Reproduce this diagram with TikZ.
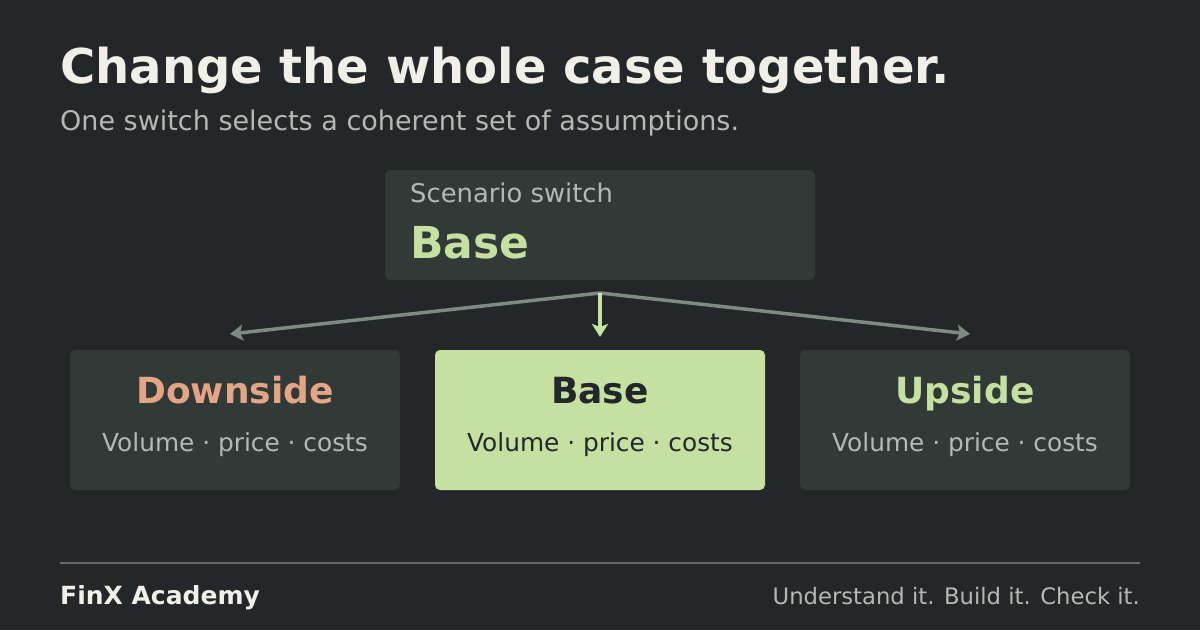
\documentclass[tikz,border=0pt]{standalone}
\usepackage{fontspec}
\usetikzlibrary{arrows.meta}
\setmainfont{DejaVu Sans}
\definecolor{bg}{HTML}{23272A}
\definecolor{boxc}{HTML}{323A38}
\definecolor{grn}{HTML}{C5E0A0}
\definecolor{org}{HTML}{E3A585}
\definecolor{arr}{HTML}{7F8A85}
\definecolor{ttl}{HTML}{F0F0E8}
\definecolor{sub}{HTML}{B4B9B4}
\definecolor{dark}{HTML}{23272A}
\begin{document}
\begin{tikzpicture}[x=1pt,y=-1pt,
  box/.style={fill=boxc,rounded corners=5pt,draw=none},
  fs/.style={font=\fontsize{#1}{#1}\selectfont},
  fb/.style={font=\fontsize{#1}{#1}\selectfont\bfseries},
  con/.style={draw=arr,line width=3.5pt,-{Stealth[length=13pt,width=16pt,inset=3pt]}}]
\fill[bg] (0,0) rectangle (1200,630);
\useasboundingbox (0,0) rectangle (1200,630);
\node[fb=48,text=ttl,anchor=base west,inner sep=0] (title) at (60,83) {Change the whole case together.};
\node[fs=27,text=sub,anchor=base west,inner sep=0] (subt) at (60,130) {One switch selects a coherent set of assumptions.};
\path[box] (385,170) rectangle (815,280);
\node[fs=25.8,text=sub,anchor=base west,inner sep=0] (sw) at (410,202) {Scenario switch};
\node[fb=44,text=grn,anchor=base west,inner sep=0] (swv) at (410,258) {Base};
\coordinate (hub) at (600,293);
\path[box] (70,350) rectangle (400,490);
\path[box,fill=grn] (435,350) rectangle (765,490);
\path[box] (800,350) rectangle (1130,490);
\coordinate (d) at (230,334);
\coordinate (b) at (600,337);
\coordinate (u) at (970,334);
\draw[con] (hub) -- (d);
\draw[con] (hub) -- (u);
\draw[con,draw=grn] (hub) -- (b);
\node[fb=36,text=org,anchor=base,inner sep=0] (dt) at (235,403) {Downside};
\node[fs=24.8,text=sub,anchor=base,inner sep=0] (ds) at (235,451) {Volume · price · costs};
\node[fb=36,text=dark,anchor=base,inner sep=0] (bt) at (600,403) {Base};
\node[fs=24.8,text=dark,anchor=base,inner sep=0] (bs) at (600,451) {Volume · price · costs};
\node[fb=36,text=grn,anchor=base,inner sep=0] (ut) at (965,403) {Upside};
\node[fs=24.8,text=sub,anchor=base,inner sep=0] (us) at (965,451) {Volume · price · costs};
\draw[draw=arr!70!bg,line width=1.5pt] (60,563) -- (1140,563);
\node[fb=25,text=ttl,anchor=base west,inner sep=0] (brand) at (60,604) {FinX Academy};
\node[fs=22.7,text=sub,anchor=base east,inner sep=0] (tag) at (1140,604) {Understand it. Build it. Check it.};
\end{tikzpicture}
\end{document}
